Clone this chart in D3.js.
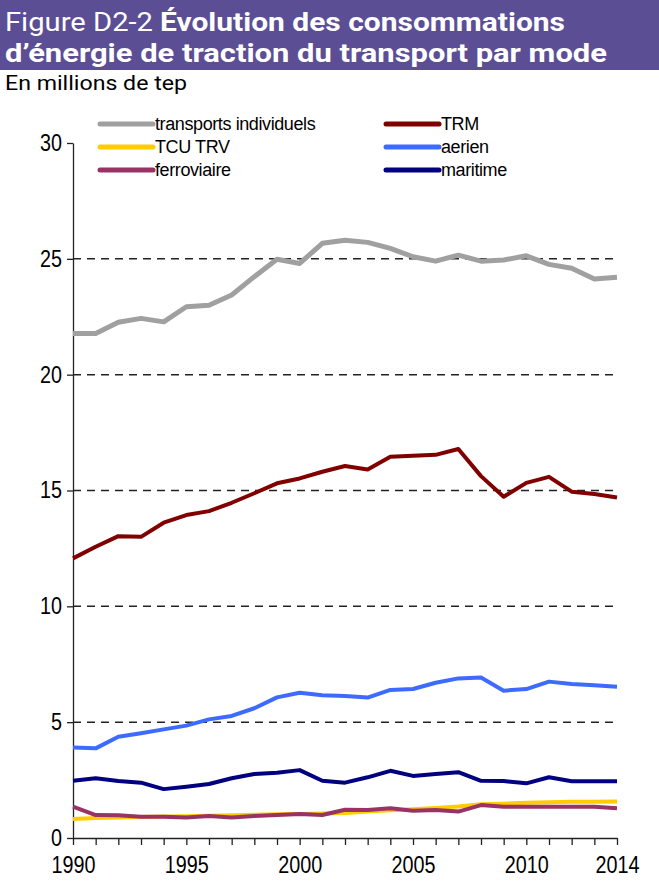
<!DOCTYPE html>
<html>
<head>
<meta charset="utf-8">
<script src="https://cdn.jsdelivr.net/npm/d3@7"></script>
<style>
  body { margin: 0; background: #fff; }
  svg { display: block; }
</style>
</head>
<body>
<svg id="chart"></svg>
<script>
const years = d3.range(1990, 2015);

const transportsIndividuels = [21.78, 21.78, 22.26, 22.43, 22.28, 22.93, 23.0, 23.44, 24.23, 24.98, 24.8, 25.67, 25.8, 25.71, 25.45, 25.09, 24.9, 25.16, 24.9, 24.95, 25.13, 24.76, 24.59, 24.13, 24.2];
const trm = [12.07, 12.57, 13.03, 13.0, 13.61, 13.94, 14.11, 14.47, 14.88, 15.31, 15.52, 15.81, 16.06, 15.91, 16.46, 16.5, 16.54, 16.79, 15.62, 14.73, 15.33, 15.59, 14.95, 14.85, 14.7];
const tcuTrv = [0.82, 0.86, 0.89, 0.91, 0.93, 0.94, 0.96, 0.98, 1.0, 1.02, 1.04, 1.06, 1.08, 1.14, 1.2, 1.24, 1.3, 1.36, 1.46, 1.48, 1.52, 1.54, 1.56, 1.57, 1.58];
const aerien = [3.91, 3.87, 4.37, 4.52, 4.69, 4.85, 5.12, 5.27, 5.6, 6.07, 6.27, 6.16, 6.13, 6.06, 6.39, 6.43, 6.7, 6.89, 6.93, 6.36, 6.43, 6.75, 6.65, 6.59, 6.53];
const ferroviaire = [1.35, 0.99, 0.98, 0.92, 0.92, 0.89, 0.95, 0.89, 0.95, 0.99, 1.04, 0.99, 1.22, 1.21, 1.28, 1.18, 1.21, 1.14, 1.42, 1.35, 1.35, 1.35, 1.35, 1.35, 1.28];
const maritime = [2.47, 2.58, 2.46, 2.39, 2.11, 2.21, 2.33, 2.58, 2.76, 2.82, 2.93, 2.47, 2.39, 2.62, 2.9, 2.68, 2.76, 2.84, 2.47, 2.46, 2.36, 2.62, 2.45, 2.45, 2.45];

const yTicks = [0, 5, 10, 15, 20, 25, 30];
const xTickLabels = [1990, 1995, 2000, 2005, 2010, 2014];

// ordre de la légende = ordre de dessin
const series = [
  {name: 'transports individuels', values: transportsIndividuels, color: '#a0a0a0', width: 5},
  {name: 'TRM', values: trm, color: '#800000', width: 4},
  {name: 'TCU TRV', values: tcuTrv, color: '#ffcc00', width: 4},
  {name: 'aerien', values: aerien, color: '#3d6bff', width: 4},
  {name: 'ferroviaire', values: ferroviaire, color: '#993366', width: 4},
  {name: 'maritime', values: maritime, color: '#000080', width: 4},
];

const width = 659;
const height = 882;
const margin = {top: 143, right: 42, bottom: 44, left: 73};

const svg = d3.select('#chart')
  .attr('width', width)
  .attr('height', height);

// bandeau titre
svg.append('rect')
  .attr('x', 0).attr('y', 0)
  .attr('width', width).attr('height', 70)
  .attr('fill', '#5b4e95');

const titleText = (txt, xPos, yPos, len, bold) => svg.append('text')
  .attr('x', xPos).attr('y', yPos)
  .attr('fill', '#fff')
  .style('font-family', 'Roboto, sans-serif')
  .style('font-size', '26px')
  .style('font-weight', bold ? 'bold' : 'normal')
  .attr('textLength', len)
  .attr('lengthAdjust', 'spacingAndGlyphs')
  .text(txt);

titleText('Figure D2-2', 5, 31, 148, false);
titleText('Évolution des consommations', 160, 31, 405, true);
titleText('d’énergie de traction du transport par mode', 5, 62, 602, true);

svg.append('text')
  .attr('x', 5).attr('y', 90)
  .attr('fill', '#000')
  .style('font-family', 'Roboto, sans-serif')
  .style('font-size', '20px')
  .attr('textLength', 182)
  .attr('lengthAdjust', 'spacingAndGlyphs')
  .text('En millions de tep');

const x = d3.scaleLinear()
  .domain([1990, 2014])
  .range([margin.left, width - margin.right]);

const y = d3.scaleLinear()
  .domain([0, 30])
  .range([height - margin.bottom, margin.top]);

const axisFont = '"Liberation Sans", Arial, sans-serif';

// chiffres un peu étroits comme dans l'original
const narrowDigits = g => g.selectAll('text')
  .style('font-family', axisFont)
  .style('font-size', '23px')
  .attr('fill', '#000')
  .each(function() {
    const n = this.textContent.length;
    if (n) d3.select(this).attr('textLength', n * 11).attr('lengthAdjust', 'spacingAndGlyphs');
  });

// grille pointillée
svg.append('g')
  .selectAll('line')
  .data(yTicks.filter(d => d > 0 && d < 30))
  .join('line')
  .attr('x1', x(1990))
  .attr('x2', x(2014))
  .attr('y1', d => y(d))
  .attr('y2', d => y(d))
  .attr('stroke', '#222')
  .attr('stroke-width', 1.5)
  .style('stroke-dasharray', '8, 6');

// axe y
const yAxis = g => g
  .attr('transform', `translate(${margin.left},0)`)
  .call(d3.axisLeft(y).tickValues(yTicks).tickSize(6).tickPadding(5).tickSizeOuter(0))
  .call(g => g.selectAll('line, path').attr('stroke', '#222').attr('stroke-width', 1.3))
  .call(narrowDigits);

// axe x : un trait par année, libellés tous les 5 ans
const xAxis = g => g
  .attr('transform', `translate(0,${height - margin.bottom})`)
  .call(d3.axisBottom(x)
    .tickValues(years)
    .tickSize(7)
    .tickPadding(12)
    .tickSizeOuter(0)
    .tickFormat(d => xTickLabels.includes(d) ? d : ''))
  .call(g => g.selectAll('line, path').attr('stroke', '#222').attr('stroke-width', 1.3))
  .call(narrowDigits);

svg.append('g').call(xAxis);
svg.append('g').call(yAxis);

const line = values => d3.line()
  .x((d, i) => x(years[i]))
  .y(d => y(d))(values);

svg.append('g')
  .selectAll('path')
  .data(series)
  .join('path')
  .attr('fill', 'none')
  .attr('stroke', d => d.color)
  .attr('stroke-width', d => d.width)
  .attr('stroke-linejoin', 'round')
  .attr('d', d => line(d.values));

// légende sur 2 colonnes
const legend = svg.append('g')
  .selectAll('g')
  .data(series)
  .join('g')
  .attr('transform', (d, i) => `translate(${i % 2 ? 386 : 100},${124 + Math.floor(i / 2) * 23})`);

legend.append('line')
  .attr('x1', 0).attr('x2', 53)
  .attr('stroke', d => d.color)
  .attr('stroke-width', 5)
  .attr('stroke-linecap', 'round');

legend.append('text')
  .attr('x', 55)
  .attr('dy', '0.35em')
  .style('font-family', axisFont)
  .style('font-size', '18px')
  .style('letter-spacing', '-0.4px')
  .attr('fill', '#000')
  .text(d => d.name);
</script>
</body>
</html>
